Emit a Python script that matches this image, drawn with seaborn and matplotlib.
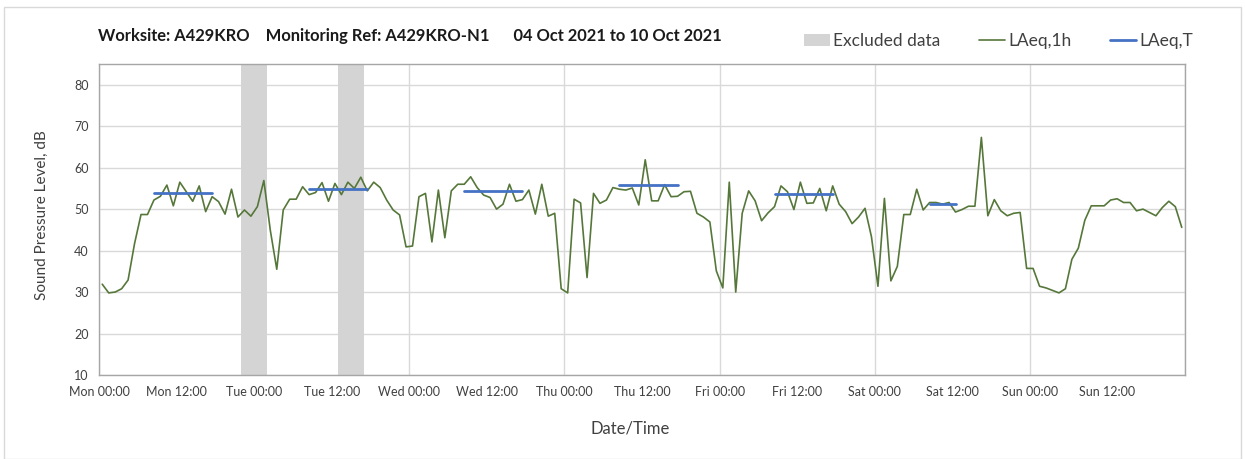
import numpy as np
import pandas as pd
import seaborn as sns
import matplotlib.pyplot as plt
import matplotlib.dates as mdates
from matplotlib.ticker import FuncFormatter
from matplotlib.patches import Rectangle, Patch
from matplotlib.lines import Line2D

# hourly LAeq,1h values (dB), one list per day, 04-10 Oct 2021
mon = [31.9, 29.8, 30.0, 30.8, 32.9, 41.7, 48.7, 48.7, 52.2, 53.1, 55.8, 50.8,
       56.5, 54.2, 51.9, 55.6, 49.4, 53.0, 51.8, 48.8, 54.8, 48.1, 49.8, 48.3]
tue = [50.6, 56.9, 44.9, 35.5, 49.8, 52.4, 52.4, 55.4, 53.5, 54.0, 56.4, 51.9,
       56.2, 53.5, 56.5, 55.0, 57.7, 54.4, 56.5, 55.2, 52.2, 49.8, 48.6, 40.9]
wed = [41.1, 53.0, 53.8, 42.1, 54.6, 43.1, 54.4, 56.0, 56.0, 57.8, 55.2, 53.4,
       52.8, 50.0, 51.2, 56.0, 51.9, 52.3, 54.6, 48.8, 56.0, 48.3, 49.0, 30.8]
thu = [29.8, 52.4, 51.5, 33.5, 53.8, 51.4, 52.2, 55.2, 54.8, 54.6, 55.1, 51.0,
       61.9, 52.0, 52.0, 55.9, 53.0, 53.1, 54.2, 54.3, 49.0, 48.1, 46.9, 35.1]
fri = [31.0, 56.5, 30.0, 49.0, 54.4, 52.0, 47.2, 49.1, 50.6, 55.6, 54.2, 49.9,
       56.5, 51.4, 51.5, 55.0, 49.6, 55.6, 51.2, 49.4, 46.5, 48.1, 50.2, 43.3]
sat = [31.4, 52.6, 32.7, 36.2, 48.7, 48.7, 54.8, 49.8, 51.6, 51.6, 51.2, 51.6,
       49.3, 49.9, 50.7, 50.7, 67.3, 48.4, 52.3, 49.6, 48.4, 49.0, 49.2, 35.7]
sun = [35.7, 31.4, 31.0, 30.4, 29.8, 30.8, 37.9, 40.6, 47.3, 50.8, 50.8, 50.8,
       52.2, 52.5, 51.6, 51.6, 49.6, 50.0, 49.2, 48.4, 50.4, 51.9, 50.6, 45.6]

# LAeq,T per day (daytime period)
laeqt_day = [0, 1, 2, 3, 4, 5]
laeqt_value = [53.9, 54.8, 54.4, 55.7, 53.7, 51.2]
laeqt_first_hour = [8, 8, 8, 8, 8, 8]
laeqt_last_hour = [17, 17, 17, 17, 17, 12]

# excluded periods (start, end)
excluded = [("2021-10-04 22:00", "2021-10-05 02:00"),
            ("2021-10-05 13:00", "2021-10-05 17:00")]

start = pd.Timestamp("2021-10-04 00:00")
end = start + pd.Timedelta(days=7)
levels = mon + tue + wed + thu + fri + sat + sun
times = start + pd.to_timedelta(np.arange(len(levels)) + 0.5, unit="h")
df = pd.DataFrame({"time": times, "level": levels})

rows = []
for d, v, h0, h1 in zip(laeqt_day, laeqt_value, laeqt_first_hour, laeqt_last_hour):
    for h in (h0, h1):
        rows.append({"seg": d, "time": start + pd.Timedelta(hours=d * 24 + h + 0.5), "level": v})
dft = pd.DataFrame(rows)

sns.set_style("white")
plt.rcParams["font.family"] = ["Lato", "DejaVu Sans"]

green = "#56773a"
blue = "#4472c4"
grey_band = "#d4d4d4"
txt = "#404040"

fig = plt.figure(figsize=(12.45, 4.59), dpi=100)
ax = fig.add_axes([99 / 1245, 1 - 375 / 459, (1185 - 99) / 1245, (375 - 64) / 459])

for a, b in excluded:
    ax.axvspan(pd.Timestamp(a), pd.Timestamp(b), color=grey_band, lw=0, zorder=1)

sns.lineplot(data=df, x="time", y="level", color=green, lw=1.2, ax=ax, zorder=3)
sns.lineplot(data=dft, x="time", y="level", units="seg", estimator=None,
             color=blue, lw=2, ax=ax, zorder=4)

ax.set_xlim(start, end)
ax.set_ylim(10, 85)
ax.set_yticks(range(10, 81, 10))


def day_label(x, pos):
    d = mdates.num2date(x).replace(tzinfo=None)
    if d >= end:
        return ""
    return d.strftime("%a %H:%M")


ax.xaxis.set_major_locator(mdates.DayLocator())
ax.xaxis.set_major_formatter(FuncFormatter(day_label))
ax.xaxis.set_minor_locator(mdates.HourLocator(byhour=[12]))
ax.xaxis.set_minor_formatter(FuncFormatter(day_label))

ax.grid(True, which="major", color="#d9d9d9", lw=1, zorder=0)
ax.set_axisbelow(True)
for s in ax.spines.values():
    s.set_color("#a6a6a6")
    s.set_linewidth(1)
ax.tick_params(axis="both", which="both", colors="#a6a6a6", labelcolor=txt,
               labelsize=9, length=4, direction="out")
ax.tick_params(axis="x", which="both", pad=4)

ax.set_xlabel("")
ax.set_ylabel("")
fig.text(42 / 1245, 1 - 215 / 459, "Sound Pressure Level, dB", rotation=90,
         ha="center", va="center", fontsize=11, color=txt)
fig.text(630 / 1245, 1 - 428 / 459, "Date/Time", ha="center", va="center",
         fontsize=12, color=txt)
fig.text(98 / 1245, 1 - 36 / 459,
         "Worksite: A429KRO    Monitoring Ref: A429KRO-N1      04 Oct 2021 to 10 Oct 2021",
         ha="left", va="center", fontsize=11.9, fontweight="bold", color="#1a1a1a")

handles = [Patch(facecolor=grey_band, edgecolor="none"),
           Line2D([], [], color=green, lw=1.2),
           Line2D([], [], color=blue, lw=2)]
fig.legend(handles, ["Excluded data", "LAeq,1h", "LAeq,T"], loc="center left",
           bbox_to_anchor=(788 / 1245, 1 - 41 / 459), ncol=3, frameon=False,
           fontsize=12.5, handlelength=1.5, handletextpad=0.2, columnspacing=2.2,
           labelcolor=txt)

fig.patches.append(Rectangle((4 / 1245, 0), 1237 / 1245, 1 - 7 / 459,
                             transform=fig.transFigure, fill=False,
                             edgecolor="#d9d9d9", lw=1))

fig.savefig("out.png", dpi=100)
